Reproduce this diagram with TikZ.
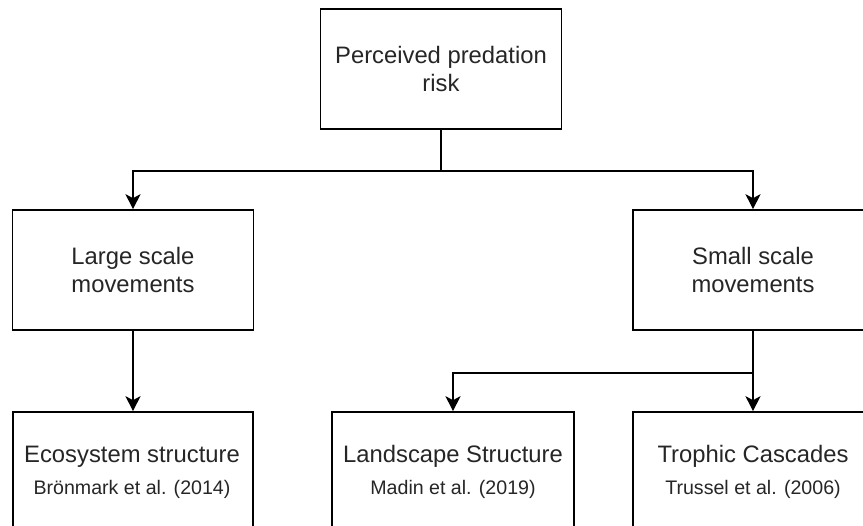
\documentclass[tikz,border=0pt]{standalone}
\usepackage{fontspec}
\setmainfont{Liberation Sans}
\usetikzlibrary{arrows.meta}
\definecolor{txt}{HTML}{262626}
\tikzset{
  box/.style={draw=black, line width=1.6pt, fill=white, rectangle, inner sep=0pt},
  boxtext/.style={align=center, text=txt, font=\fontsize{23.8}{28}\selectfont},
  maintext/.style={text=txt, anchor=base, inner sep=0pt, font=\fontsize{23.8}{28}\selectfont},
  citetext/.style={text=txt, anchor=base, inner sep=0pt, font=\fontsize{19.6}{24}\selectfont},
  conn/.style={draw=black, line width=1.6pt},
  arr/.style={conn, -{Stealth[length=15pt,width=15pt,inset=4pt]}}
}
\begin{document}
\begin{tikzpicture}[x=1pt,y=-1pt]
\useasboundingbox (0,0) rectangle (863,526);
\clip (0,0) rectangle (863,526);
\fill[white] (0,0) rectangle (863,526);
% boxes
\node[box, boxtext, minimum width=241pt, minimum height=120pt] (top) at (441,69) {Perceived predation\\risk};
\node[box, boxtext, minimum width=241pt, minimum height=120pt] (large) at (133,270) {Large scale\\movements};
\node[box, boxtext, minimum width=240pt, minimum height=120pt] (small) at (753,270) {Small scale\\movements};
\node[box, minimum width=240pt, minimum height=120pt] (eco) at (133,472) {};
\node[box, minimum width=242pt, minimum height=120pt] (land) at (453,472) {};
\node[box, minimum width=240pt, minimum height=120pt] (troph) at (753,472) {};
% bottom texts
\node[maintext] (ecoT) at (132,463) {Ecosystem structure};
\node[citetext] (ecoC) at (132,495) {Brönmark et al. (2014)};
\node[maintext] (landT) at (453,463) {Landscape Structure};
\node[citetext] (landC) at (453,495) {Madin et al. (2019)};
\node[maintext] (trophT) at (753,463) {Trophic Cascades};
\node[citetext] (trophC) at (753,495) {Trussel et al. (2006)};
% connectors
\coordinate (j1) at (441,171);
\coordinate (j2) at (753,373);
\draw[conn] (top.south) -- (j1);
\draw[arr] (j1) -| (large.north);
\draw[arr] (j1) -| (small.north);
\draw[arr] (large.south) -- (eco.north);
\draw[arr] (small.south) -- (troph.north);
\draw[arr] (j2) -| (land.north);
\end{tikzpicture}
\end{document}
